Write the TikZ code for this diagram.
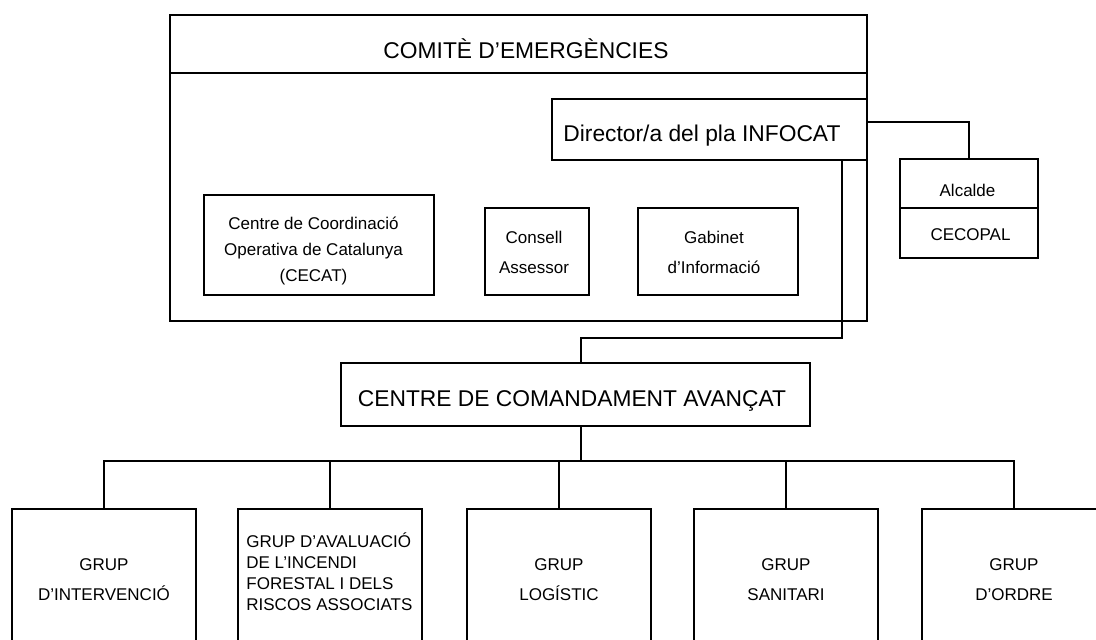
\documentclass[tikz,border=0pt]{standalone}
\usepackage{fontspec}
\setmainfont{Liberation Sans}
\newcommand\grantxt{\fontsize{11.4}{13}\selectfont}
\newcommand\petittxt{\fontsize{8.5}{15}\selectfont}
\begin{document}
\begin{tikzpicture}[x=0.5pt,y=-0.5pt]
        \tikzstyle{every node}+=[inner sep=0pt]
        \tikzstyle{caixa}=[draw=black, line width=0.8pt, rectangle]
        \tikzstyle{grup}=[caixa, minimum width=92pt, minimum height=71pt, align=center, font=\petittxt]
        \clip (0,0) rectangle (1096,640);
        \node [caixa, minimum width=348.5pt, minimum height=153pt] (comite) at (518.5,168) {};
        \node [caixa, minimum width=348.5pt, minimum height=29pt] (comitecap) at (518.5,44) {};
        \draw (526,59) node [anchor=base, font=\grantxt] (comitetxt) {COMITÈ D'EMERGÈNCIES};
        \node [caixa, fill=white, minimum width=157.5pt, minimum height=30.5pt] (director) at (709.5,129.5) {};
        \draw (563,142) node [anchor=base west, font=\grantxt] (directortxt) {Director/a del pla INFOCAT};
        \node [caixa, minimum width=115pt, minimum height=50pt] (cecat) at (319,245) {};
        \draw (313.5,251) node [align=center, font=\fontsize{8.5}{13}\selectfont] (cecattxt) {Centre de Coordinació\\Operativa de Catalunya\\(CECAT)};
        \node [caixa, minimum width=52pt, minimum height=43.5pt] (consell) at (537,251.5) {};
        \draw (534,252) node [align=center, font=\petittxt] (conselltxt) {Consell\\Assessor};
        \node [caixa, minimum width=80pt, minimum height=43.5pt] (gabinet) at (718,251.5) {};
        \draw (714,252) node [align=center, font=\petittxt] (gabinettxt) {Gabinet\\d'Informació};
        \node [caixa, minimum width=69pt, minimum height=24.5pt] (alcalde) at (969,183.5) {};
        \draw (967.5,197) node [anchor=base, font=\petittxt] (alcaldetxt) {Alcalde};
        \node [caixa, minimum width=69pt, minimum height=25pt] (cecopal) at (969,233) {};
        \draw (970.5,241) node [anchor=base, font=\petittxt] (cecopaltxt) {CECOPAL};
        \node [caixa, minimum width=234.5pt, minimum height=31.5pt] (cca) at (575.5,394.5) {};
        \draw (572,407) node [anchor=base, font=\grantxt] (ccatxt) {CENTRE DE COMANDAMENT AVANÇAT};
        \node [grup] (g1) at (104,580) {GRUP\\D'INTERVENCIÓ};
        \node [grup] (g2) at (330,580) {};
        \draw (246,572) node [anchor=west, align=left, font=\fontsize{8.5}{10.5}\selectfont] (g2txt) {GRUP D'AVALUACIÓ\\DE L'INCENDI\\FORESTAL I DELS\\RISCOS ASSOCIATS};
        \node [grup] (g3) at (559,580) {GRUP\\LOGÍSTIC};
        \node [grup] (g4) at (786,580) {GRUP\\SANITARI};
        \node [grup] (g5) at (1014,580) {GRUP\\D'ORDRE};
        \coordinate (colze) at (581,338);
        \coordinate (bus) at (581,461);
        \draw [black, line width=0.8pt] ([yshift=3.75pt]director.east) -| (alcalde.north);
        \draw [black, line width=0.8pt] ([xshift=66.25pt]director.south) |- (colze) -- (colze |- cca.north);
        \draw [black, line width=0.8pt] (colze |- cca.south) -- (bus);
        \foreach \g in {g1,g2,g3,g4,g5}
                \draw [black, line width=0.8pt] (bus) -| (\g.north);
\end{tikzpicture}
\end{document}
